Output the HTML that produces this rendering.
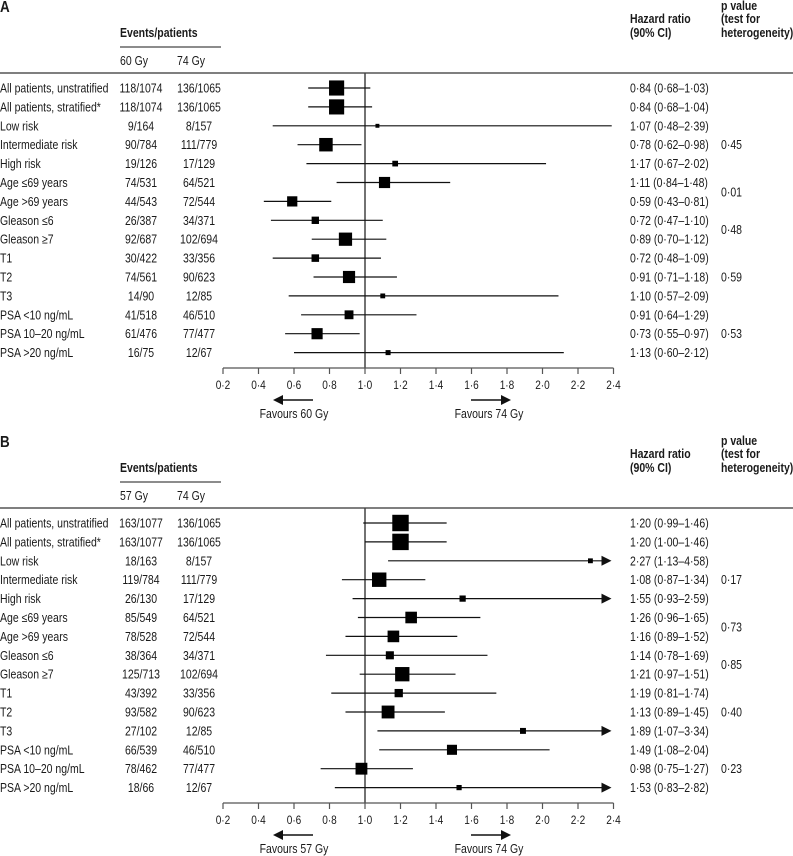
<!DOCTYPE html>
<html><head><meta charset="utf-8"><style>
html,body{margin:0;padding:0;background:#fff;}
svg{display:block;font-family:"Liberation Sans",sans-serif;}
</style></head><body>
<svg id="chart" width="793" height="856" viewBox="0 0 793 856"></svg>
<script>
const labels=["All patients, unstratified","All patients, stratified*","Low risk","Intermediate risk","High risk","Age \u226469 years","Age >69 years","Gleason \u22646","Gleason \u22657","T1","T2","T3","PSA <10 ng/mL","PSA 10\u201320 ng/mL","PSA >20 ng/mL"];
const ticks=[0.2,0.4,0.6,0.8,1.0,1.2,1.4,1.6,1.8,2.0,2.2,2.4];
const tickLabels=["0\u00b72","0\u00b74","0\u00b76","0\u00b78","1\u00b70","1\u00b72","1\u00b74","1\u00b76","1\u00b78","2\u00b70","2\u00b72","2\u00b74"];
// Panel A
const aCtrl=["118/1074","118/1074","9/164","90/784","19/126","74/531","44/543","26/387","92/687","30/422","74/561","14/90","41/518","61/476","16/75"];
const aExp=["136/1065","136/1065","8/157","111/779","17/129","64/521","72/544","34/371","102/694","33/356","90/623","12/85","46/510","77/477","12/67"];
const aHR=[0.84,0.84,1.07,0.78,1.17,1.11,0.59,0.72,0.89,0.72,0.91,1.10,0.91,0.73,1.13];
const aLo=[0.68,0.68,0.48,0.62,0.67,0.84,0.43,0.47,0.70,0.48,0.71,0.57,0.64,0.55,0.60];
const aHi=[1.03,1.04,2.39,0.98,2.02,1.48,0.81,1.10,1.12,1.09,1.18,2.09,1.29,0.97,2.12];
const aEvents=[254,254,17,201,36,138,116,60,194,63,164,26,87,138,28];
const aP=["0\u00b745","0\u00b701","0\u00b748","0\u00b759","0\u00b753"];
// Panel B
const bCtrl=["163/1077","163/1077","18/163","119/784","26/130","85/549","78/528","38/364","125/713","43/392","93/582","27/102","66/539","78/462","18/66"];
const bExp=aExp.slice();
const bHR=[1.20,1.20,2.27,1.08,1.55,1.26,1.16,1.14,1.21,1.19,1.13,1.89,1.49,0.98,1.53];
const bLo=[0.99,1.00,1.13,0.87,0.93,0.96,0.89,0.78,0.97,0.81,0.89,1.07,1.08,0.75,0.83];
const bHi=[1.46,1.46,4.58,1.34,2.59,1.65,1.52,1.69,1.51,1.74,1.45,3.34,2.04,1.27,2.82];
const bEvents=[299,299,26,230,43,149,150,72,227,76,183,39,112,155,30];
const bP=["0\u00b717","0\u00b773","0\u00b785","0\u00b740","0\u00b723"];
const pRowPos=[3,5.5,7.5,10,13];

const svg=document.getElementById('chart');
const NS='http://www.w3.org/2000/svg';
const SX=0.84;
function xs(v){return 365+(v-1)*177.5;}
function mk(tag,attrs,parent){const e=document.createElementNS(NS,tag);for(const k in attrs)e.setAttribute(k,attrs[k]);(parent||svg).appendChild(e);return e;}
function txt(g,x,y,s,opts){opts=opts||{};const t=mk('text',{x:x/SX,y:y,'font-size':opts.size||12.5,'text-anchor':opts.anchor||'start','font-weight':opts.bold?'bold':'normal',fill:'#1a1a1a'},g);t.textContent=s;return t;}

function panel(oy,letter,ctrlDose,ctrl,exp,hr,lo,hi,ev,pv){
  const g=mk('g',{});
  
  
  const tg=mk('g',{transform:'scale('+SX+',1)'},g);
  const L=txt(tg,0,oy+12,letter,{size:16,bold:true});
  
  
  const h=txt(tg,120,oy+37,'Events/patients',{bold:true,size:12.5});
  
  
  mk('line',{x1:120,x2:221,y1:oy+47,y2:oy+47,stroke:'#666','stroke-width':1.5},g);
  txt(tg,120,oy+65,ctrlDose+' Gy');
  txt(tg,177,oy+65,'74 Gy');
  const hh=txt(tg,630,oy+23,'Hazard ratio',{bold:true});
  
  
  txt(tg,630,oy+37,'(90% CI)',{bold:true});
  const ph=txt(tg,721,oy+10,'p value',{bold:true});
  
  
  txt(tg,721,oy+23,'(test for',{bold:true});
  txt(tg,721,oy+37,'heterogeneity)',{bold:true});
  mk('line',{x1:0,x2:793,y1:oy+73,y2:oy+73,stroke:'#555','stroke-width':1.5},g);
  const ry=i=>oy+88+i*18.9;
  // reference line
  const ref=mk('line',{x1:xs(1),x2:xs(1),y1:oy+73,y2:oy+368,stroke:'#444','stroke-width':1.5},g);
  
  
  for(let i=0;i<labels.length;i++){
    const y=ry(i);
    const lt=txt(tg,0,y+4.5,labels[i]);
    
    
    txt(tg,141,y+4.5,ctrl[i],{anchor:'middle'});
    txt(tg,199,y+4.5,exp[i],{anchor:'middle'});
    const f=v=>v.toFixed(2).replace('.','\u00b7');
    const ht=txt(tg,630,y+4.5,f(hr[i])+' ('+f(lo[i])+'\u2013'+f(hi[i])+')');
    
    
    const over=hi[i]>2.4;
    const xe=over?xs(2.4)-2:xs(hi[i]);
    const ci=mk('line',{x1:xs(lo[i]),x2:over?xe-8:xe,y1:y,y2:y,stroke:'#111','stroke-width':1.2},g);
    
    
    if(over){
      const ar=mk('polygon',{points:(xe-10)+','+(y-5)+' '+xe+','+y+' '+(xe-10)+','+(y+5),fill:'#111'},g);
      
      
    }
    const s=Math.max(3.5,Math.sqrt(ev[i])*0.95);
    const sq=mk('rect',{x:xs(hr[i])-s/2,y:y-s/2,width:s,height:s,fill:'#000'},g);
    
    
  }
  for(let k=0;k<pv.length;k++){
    const pt=txt(tg,721,ry(pRowPos[k])+4.5,pv[k]);
    
    
  }
  // axis
  const ax=mk('line',{x1:xs(0.2),x2:xs(2.4),y1:oy+368,y2:oy+368,stroke:'#555','stroke-width':1.3},g);
  
  
  for(let k=0;k<ticks.length;k++){
    mk('line',{x1:xs(ticks[k]),x2:xs(ticks[k]),y1:oy+368,y2:oy+374,stroke:'#555','stroke-width':1.2},g);
    const tl=txt(tg,xs(ticks[k]),oy+389,tickLabels[k],{anchor:'middle',size:12});
    
    
  }
  const ay=oy+400;
  mk('line',{x1:313,x2:280,y1:ay,y2:ay,stroke:'#111','stroke-width':1.5},g);
  mk('polygon',{points:'273,'+ay+' 283,'+(ay-5)+' 283,'+(ay+5),fill:'#111'},g);
  mk('line',{x1:471,x2:504,y1:ay,y2:ay,stroke:'#111','stroke-width':1.5},g);
  mk('polygon',{points:'511,'+ay+' 501,'+(ay-5)+' 501,'+(ay+5),fill:'#111'},g);
  const fl=txt(tg,294,oy+418,'Favours '+ctrlDose+' Gy',{anchor:'middle'});
  
  
  const fr=txt(tg,489,oy+418,'Favours 74 Gy',{anchor:'middle'});
  
  
}
panel(0,'A','60',aCtrl,aExp,aHR,aLo,aHi,aEvents,aP);
panel(435,'B','57',bCtrl,bExp,bHR,bLo,bHi,bEvents,bP);
</script>
</body></html>
